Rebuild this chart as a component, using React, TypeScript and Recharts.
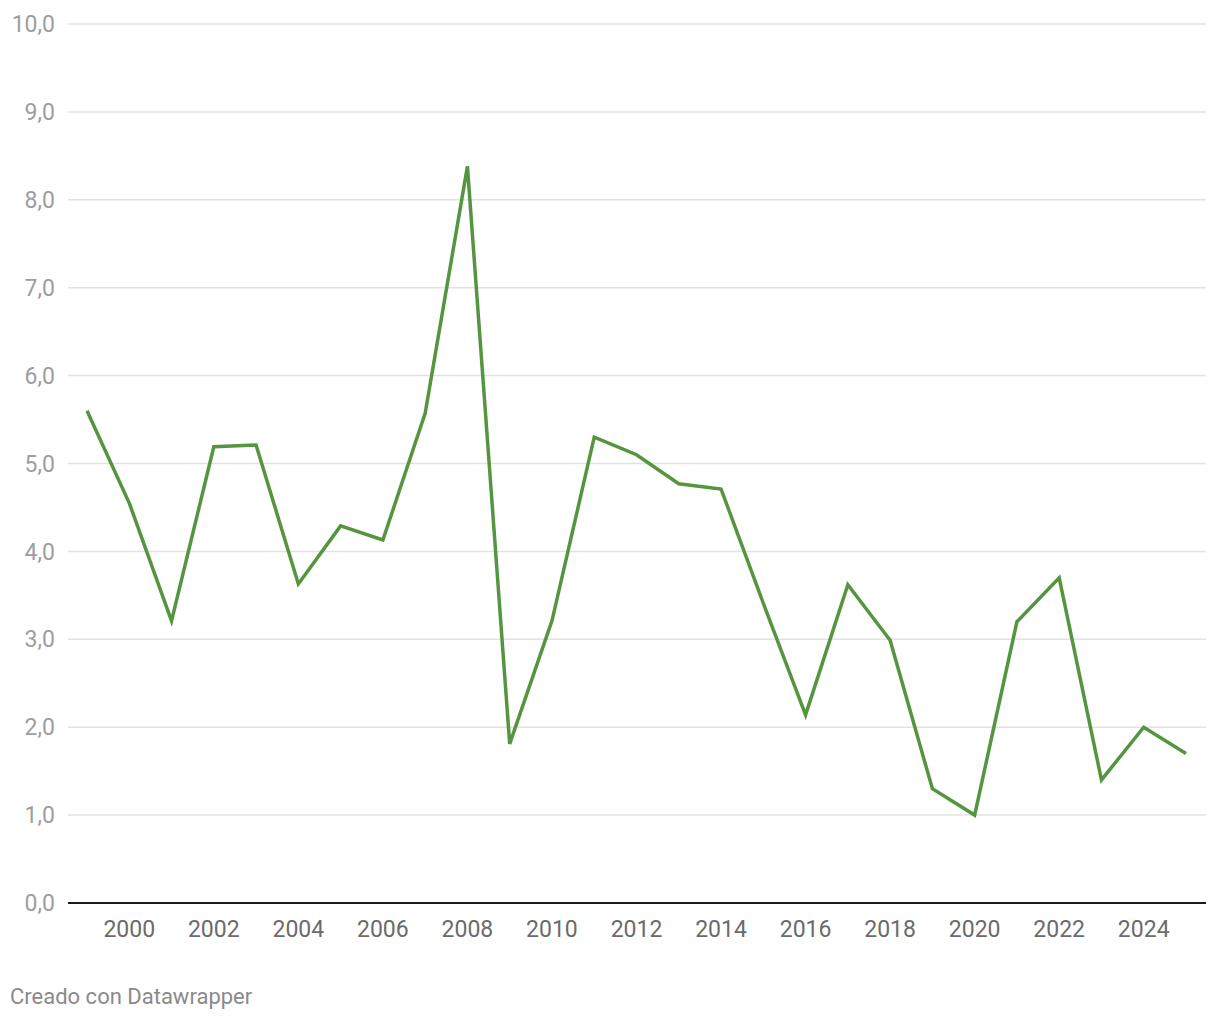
import React from 'react';
import { LineChart, Line, XAxis, YAxis, CartesianGrid } from 'recharts';

const years = [
  1999, 2000, 2001, 2002, 2003, 2004, 2005, 2006, 2007, 2008, 2009, 2010, 2011,
  2012, 2013, 2014, 2015, 2016, 2017, 2018, 2019, 2020, 2021, 2022, 2023, 2024, 2025,
];
const values = [
  5.6, 4.55, 3.21, 5.19, 5.21, 3.63, 4.29, 4.13, 5.57, 8.38, 1.81, 3.21, 5.3,
  5.1, 4.77, 4.71, 3.41, 2.14, 3.62, 2.99, 1.3, 1.0, 3.2, 3.7, 1.4, 2.0, 1.7,
];
const xTicks = [2000, 2002, 2004, 2006, 2008, 2010, 2012, 2014, 2016, 2018, 2020, 2022, 2024];
const yTicks = [0, 1, 2, 3, 4, 5, 6, 7, 8, 9, 10];

const data = years.map((year, i) => ({ year, value: values[i] }));

const formatY = (v: number) => v.toFixed(1).replace('.', ',');

const App: React.FC = () => {
  return (
    <div
      style={{
        position: 'absolute',
        top: 0,
        left: 0,
        width: 1220,
        height: 1020,
        background: '#fff',
        fontFamily: 'Roboto, sans-serif',
      }}
    >
      <LineChart
        width={1220}
        height={1020}
        data={data}
        margin={{ top: 24, right: 14, left: 0, bottom: 57 }}
      >
        <CartesianGrid vertical={false} stroke="#e2e2e2" strokeWidth={1.5} />
        <XAxis
          dataKey="year"
          type="number"
          domain={[1999, 2025]}
          ticks={xTicks}
          padding={{ left: 19, right: 20 }}
          axisLine={{ stroke: '#1a1a1a', strokeWidth: 2 }}
          tickLine={false}
          tickSize={0}
          tickMargin={18}
          height={60}
          tick={{ fontSize: 23, fill: '#6b6b6b', fontFamily: 'Roboto' }}
        />
        <YAxis
          domain={[0, 10]}
          ticks={yTicks}
          tickFormatter={formatY}
          axisLine={false}
          tickLine={false}
          tickSize={0}
          tickMargin={13}
          width={68}
          tick={{ fontSize: 23, fill: '#9e9e9e', fontFamily: 'Roboto' }}
        />
        <Line
          type="linear"
          dataKey="value"
          stroke="#56953f"
          strokeWidth={3.5}
          dot={false}
          isAnimationActive={false}
        />
      </LineChart>
      <div
        style={{
          position: 'absolute',
          left: 10,
          top: 984,
          fontSize: 22,
          color: '#8a8a8a',
          fontFamily: 'Roboto, sans-serif',
        }}
      >
        Creado con Datawrapper
      </div>
    </div>
  );
};

export default App;
